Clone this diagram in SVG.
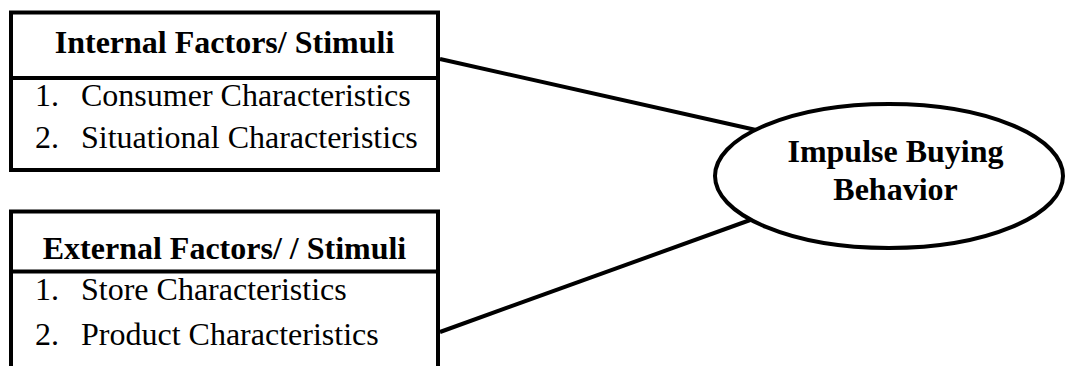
<svg xmlns="http://www.w3.org/2000/svg" width="1065" height="366" viewBox="0 0 1065 366">
  <style>
    .frame { fill: #ffffff; stroke: #000000; stroke-width: 4; }
    .rule { stroke: #000000; stroke-width: 4; }
    .link { stroke: #000000; stroke-width: 4; fill: none; }
    .head { font-family: "Liberation Serif", "Times New Roman", serif; font-size: 32px; font-weight: bold; fill: #000000; }
    .item { font-family: "Liberation Serif", "Times New Roman", serif; font-size: 32px; fill: #000000; }
  </style>
  <rect width="1065" height="366" fill="#ffffff"/>

  <!-- connectors from the factor boxes to the outcome -->
  <g id="connectors">
    <line class="link" x1="440" y1="59" x2="756" y2="130"/>
    <line class="link" x1="440" y1="332" x2="753" y2="219"/>
  </g>

  <!-- internal factors -->
  <g id="internal-factors">
    <rect class="frame" x="11" y="12.5" width="427" height="157.5"/>
    <line class="rule" x1="11" y1="78" x2="438" y2="78"/>
    <text class="head" x="224.5" y="53" text-anchor="middle">Internal Factors/ Stimuli</text>
    <text class="item" x="35" y="106">1.</text>
    <text class="item" x="81" y="106">Consumer Characteristics</text>
    <text class="item" x="35" y="148">2.</text>
    <text class="item" x="81" y="148">Situational Characteristics</text>
  </g>

  <!-- external factors -->
  <g id="external-factors">
    <rect class="frame" x="11" y="211.5" width="427" height="170"/>
    <line class="rule" x1="11" y1="271.5" x2="438" y2="271.5"/>
    <text class="head" x="224.5" y="259" text-anchor="middle">External Factors/ / Stimuli</text>
    <text class="item" x="35" y="300">1.</text>
    <text class="item" x="81" y="300">Store Characteristics</text>
    <text class="item" x="35" y="345">2.</text>
    <text class="item" x="81" y="345">Product Characteristics</text>
  </g>

  <!-- outcome -->
  <g id="impulse-buying">
    <ellipse class="frame" cx="889" cy="176" rx="174" ry="72"/>
    <text class="head" x="895.5" y="162" text-anchor="middle">Impulse Buying</text>
    <text class="head" x="895.5" y="200" text-anchor="middle">Behavior</text>
  </g>
</svg>
